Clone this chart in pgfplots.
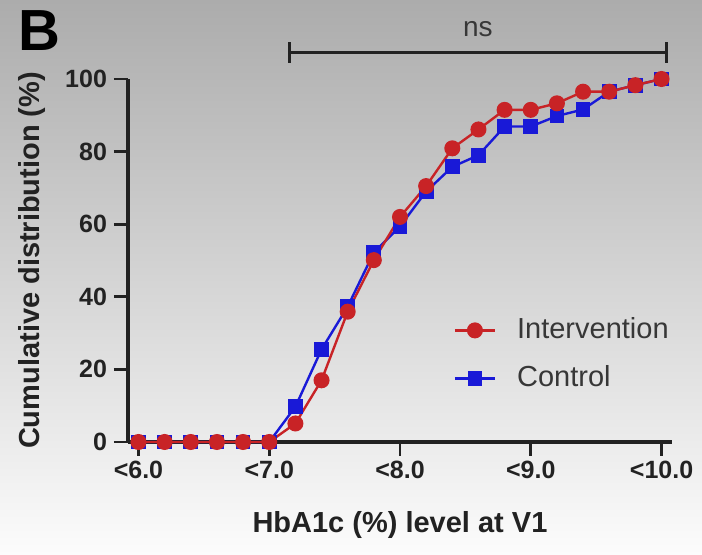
\documentclass[border=0pt]{standalone}
\usepackage{pgfplots}
\pgfplotsset{compat=1.18}
\usepackage{fontspec}
\setmainfont{Liberation Sans}

\definecolor{intred}{RGB}{200,35,38}
\definecolor{ctlblue}{RGB}{25,25,215}
\definecolor{axisgray}{RGB}{34,34,34}
\definecolor{textgray}{RGB}{55,55,55}
\definecolor{bgtop}{RGB}{172,172,172}
\definecolor{bgbottom}{RGB}{252,252,252}

\begin{document}
\begin{tikzpicture}
% page frame with the grey-to-white background
\path[use as bounding box] (-64pt,-56.5pt) rectangle (287pt,221pt);
\shade[top color=bgtop, bottom color=bgbottom] (-64pt,-56.5pt) rectangle (287pt,221pt);

\begin{axis}[
  scale only axis,
  width=272pt, height=181.5pt,
  xmin=5.92, xmax=10.08,
  ymin=0, ymax=100,
  axis x line=bottom, axis y line=left,
  axis line style={-, line width=1.7pt, color=axisgray},
  tick align=outside,
  major tick length=7pt,
  tick style={line width=1.4pt, color=axisgray},
  xtick={6,7,8,9,10},
  xticklabels={<6.0,<7.0,<8.0,<9.0,<10.0},
  ytick={0,20,40,60,80,100},
  /pgf/number format/assume math mode=true,
  ticklabel style={font=\bfseries\fontsize{12.5}{14}\selectfont, text=axisgray},
  xticklabel style={yshift=1pt},
  xlabel={HbA1c (\%) level at V1},
  ylabel={Cumulative distribution (\%)},
  label style={font=\bfseries\fontsize{14.5}{16}\selectfont, text=axisgray},
  xlabel style={at={(axis description cs:0.5,0)}, anchor=center, yshift=-41.5pt},
  ylabel style={at={(axis description cs:0,0.5)}, anchor=center, yshift=48pt},
  clip=false,
  legend style={
    draw=none, fill=none, inner sep=0pt,
    at={(0.598,0.3526)}, anchor=north west,
    font=\fontsize{14.5}{16}\selectfont, text=textgray,
    nodes={inner sep=1pt, text height=11pt, text depth=3pt},
    row sep=8pt, column sep=9.5pt,
  },
  legend cell align=left,
  reverse legend,
  legend image code/.code={%
    \draw[mark repeat=2, mark phase=2, #1]
      plot coordinates {(0pt,0pt) (10pt,0pt) (20pt,0pt)};},
]

% Control group
\addplot[color=ctlblue, line width=1.2pt, mark=square*, mark size=3.1pt,
         mark options={fill=ctlblue, draw=ctlblue}]
  coordinates {
    (6.0,0) (6.2,0) (6.4,0) (6.6,0) (6.8,0) (7.0,0)
    (7.2,9.7) (7.4,25.5) (7.6,37.3) (7.8,52.2) (8.0,59.4)
    (8.2,69.0) (8.4,75.8) (8.6,79.0) (8.8,86.9) (9.0,86.9)
    (9.2,89.8) (9.4,91.6) (9.6,96.5) (9.8,98.3) (10.0,100)
  };
\addlegendentry{Control}

% Intervention group
\addplot[color=intred, line width=1.2pt, mark=*, mark size=3.4pt,
         mark options={fill=intred, draw=intred}]
  coordinates {
    (6.0,0) (6.2,0) (6.4,0) (6.6,0) (6.8,0) (7.0,0)
    (7.2,5.1) (7.4,17.0) (7.6,35.9) (7.8,50.1) (8.0,62.0)
    (8.2,70.5) (8.4,80.9) (8.6,86.1) (8.8,91.5) (9.0,91.5)
    (9.2,93.3) (9.4,96.5) (9.6,96.5) (9.8,98.3) (10.0,100)
  };
\addlegendentry{Intervention}

% significance bracket
\draw[line width=1.5pt, color=axisgray]
  (axis cs:7.155,107.4) -- (axis cs:10.036,107.4);
\draw[line width=1.5pt, color=axisgray]
  (axis cs:7.155,104.5) -- (axis cs:7.155,110.3);
\draw[line width=1.5pt, color=axisgray]
  (axis cs:10.036,104.5) -- (axis cs:10.036,110.3);
\node[font=\fontsize{14}{16}\selectfont, text=textgray, anchor=center]
  at (axis cs:8.595,113.8) {ns};

% panel letter
\node[font=\bfseries\fontsize{29}{32}\selectfont, anchor=center]
  at (rel axis cs:0,1) [xshift=-44.5pt, yshift=24pt] {B};
\end{axis}
\end{tikzpicture}
\end{document}
